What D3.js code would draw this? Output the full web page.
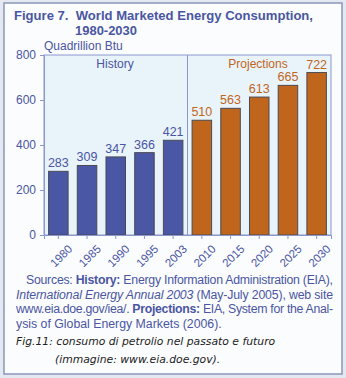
<!DOCTYPE html>
<html><head><meta charset="utf-8">
<script src="https://cdn.jsdelivr.net/npm/d3@7"></script>
<style>
html,body{margin:0;padding:0;background:#e4e8f0;}
svg{display:block;}
</style></head>
<body>
<script>
const years = ["1980","1985","1990","1995","2003","2010","2015","2020","2025","2030"];
const values = [283,309,347,366,421,510,563,613,665,722];
const periods = ["History","History","History","History","History","Projections","Projections","Projections","Projections","Projections"];
const yTicks = [0,200,400,600,800];

const W = 346, H = 378;
const FONT = "'Liberation Sans', Arial, Helvetica, sans-serif";
const blue = "#4a57a5", orange = "#c0661c", textBlue = "#4a56a2";
const svg = d3.select("body").append("svg").attr("width", W).attr("height", H);

// frame
svg.append("rect").attr("x",4).attr("y",3).attr("width",338).attr("height",371)
  .attr("fill","#fbfcfe").attr("stroke","#8c96b8").attr("stroke-width",1.5);

// title
const title = svg.append("g").attr("fill",textBlue).attr("font-family",FONT)
  .attr("font-weight","bold").attr("font-size",13.5);
title.append("text").attr("x",14).attr("y",19.5).attr("textLength",299).attr("lengthAdjust","spacingAndGlyphs")
  .attr("xml:space","preserve").text("Figure 7.  World Marketed Energy Consumption,");
title.append("text").attr("x",75).attr("y",34.5).attr("textLength",62).attr("lengthAdjust","spacingAndGlyphs").text("1980-2030");

svg.append("text").attr("x",44).attr("y",50).attr("fill",textBlue)
  .attr("font-family",FONT).attr("font-size",12).text("Quadrillion Btu");

const x = d3.scaleBand().domain(years).range([44,331]).paddingInner(0.32).paddingOuter(0.16);
const y = d3.scaleLinear().domain([0,800]).range([235,55]);
const axisColor = "#8c97cc";

// plot background
svg.append("rect").attr("x",44).attr("y",55).attr("width",287).attr("height",180)
  .attr("fill","#e9f3fa").attr("stroke",axisColor).attr("stroke-width",1);
const divX = (x("2003")+x.bandwidth()+x("2010"))/2;
svg.append("line").attr("x1",divX).attr("x2",divX).attr("y1",55).attr("y2",235)
  .attr("stroke",axisColor).attr("stroke-width",1);

svg.append("text").attr("x",115).attr("y",68).attr("text-anchor","middle")
  .attr("fill",textBlue).attr("font-family",FONT).attr("font-size",12).text("History");
svg.append("text").attr("x",258).attr("y",68).attr("text-anchor","middle")
  .attr("fill",orange).attr("font-family",FONT).attr("font-size",12).text("Projections");

// bars
const data = years.map((yr,i)=>({yr, v:values[i], p:periods[i]}));
svg.selectAll("rect.bar").data(data).enter().append("rect").attr("class","bar")
  .attr("x",d=>x(d.yr)).attr("width",x.bandwidth())
  .attr("y",d=>y(d.v)).attr("height",d=>y(0)-y(d.v))
  .attr("fill",d=>d.p==="History"?blue:orange)
  .attr("stroke","#4a4a55").attr("stroke-width",1);
svg.selectAll("text.val").data(data).enter().append("text").attr("class","val")
  .attr("x",d=>x(d.yr)+x.bandwidth()/2).attr("y",d=>y(d.v)-4)
  .attr("text-anchor","middle").attr("font-family",FONT).attr("font-size",12.5)
  .attr("fill",d=>d.p==="History"?textBlue:orange).text(d=>d.v);

// axes
const yAxis = svg.append("g").attr("transform","translate(44,0)")
  .call(d3.axisLeft(y).tickValues(yTicks).tickSize(4).tickPadding(4));
const xAxis = svg.append("g").attr("transform","translate(0,235)")
  .call(d3.axisBottom(x).tickSize(4).tickPadding(3));
[yAxis,xAxis].forEach(g=>{
  g.select(".domain").attr("stroke",axisColor);
  g.selectAll(".tick line").attr("stroke",axisColor);
  g.selectAll("text").attr("fill",textBlue).attr("font-family",FONT).attr("font-size",12);
});
xAxis.selectAll("text").attr("text-anchor","end").attr("font-size",11.5)
  .attr("transform","translate(4,4) rotate(-45)").attr("dy","0.7em");

// sources
const src = svg.append("g").attr("fill",textBlue).attr("font-family",FONT).attr("font-size",12.3);
const lines = [
  {x:26, y:284, len:307, parts:[["Sources: ",""],["History:","b"],[" Energy Information Administration (EIA),",""]]},
  {x:16, y:298.5, len:317, parts:[["International Energy Annual 2003","i"],[" (May-July 2005), web site",""]]},
  {x:16, y:313, len:317, parts:[["www.eia.doe.gov/iea/. ",""],["Projections:","b"],[" EIA, System for the Anal-",""]]},
  {x:16, y:327.5, len:null, parts:[["ysis of Global Energy Markets (2006).",""]]}
];
lines.forEach(l=>{
  const t = src.append("text").attr("x",l.x).attr("y",l.y);
  if(l.len){ t.attr("textLength",l.len).attr("lengthAdjust","spacing"); }
  l.parts.forEach(p=>{
    const s = t.append("tspan").text(p[0]);
    if(p[1]==="b") s.attr("font-weight","bold");
    if(p[1]==="i") s.attr("font-style","italic");
  });
});

// caption
const cap = svg.append("text").attr("fill","#222").attr("font-family","'DejaVu Sans', Verdana, sans-serif")
  .attr("font-style","italic").attr("font-size",10.8);
cap.append("tspan").attr("x",16).attr("y",345).text("Fig.11: consumo di petrolio nel passato e futuro");
cap.append("tspan").attr("x",55).attr("y",363).text("(immagine: www.eia.doe.gov).");
</script>
</body></html>
